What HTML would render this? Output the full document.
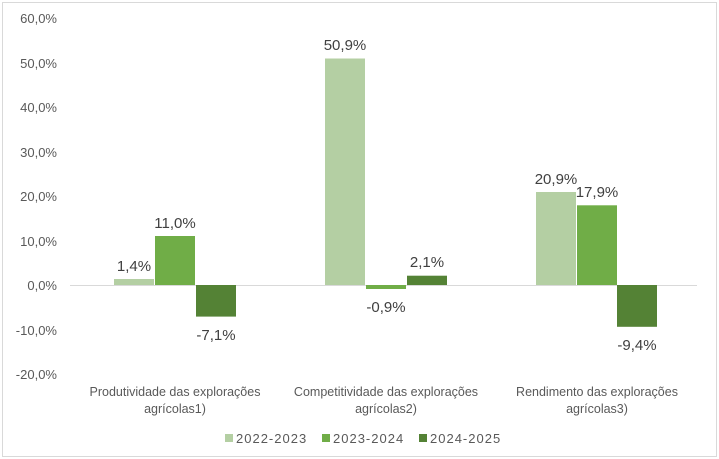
<!DOCTYPE html>
<html><head><meta charset="utf-8"><style>
body{margin:0;background:#fff}
svg{display:block;font-family:"Liberation Sans",sans-serif}
</style></head><body>
<svg width="719" height="459" viewBox="0 0 719 459">
<rect x="2.5" y="2.5" width="714" height="454" fill="#fff" stroke="#d9d9d9"/>
<g font-size="13" fill="#595959" text-anchor="end">
<text x="57" y="23">60,0%</text>
<text x="57" y="68">50,0%</text>
<text x="57" y="112">40,0%</text>
<text x="57" y="157">30,0%</text>
<text x="57" y="201">20,0%</text>
<text x="57" y="246">10,0%</text>
<text x="57" y="290">0,0%</text>
<text x="57" y="335">-10,0%</text>
<text x="57" y="379">-20,0%</text>
</g>
<line x1="70" y1="285.5" x2="697" y2="285.5" stroke="#d9d9d9"/>
<g>
<rect x="114" y="279" width="40" height="6" fill="#b4cfa3"/>
<rect x="155" y="236" width="40" height="49" fill="#70ad47"/>
<rect x="196" y="285" width="40" height="31.6" fill="#548235"/>
<rect x="325" y="58.5" width="40" height="226.5" fill="#b4cfa3"/>
<rect x="366" y="285" width="40" height="4" fill="#70ad47"/>
<rect x="407" y="275.7" width="40" height="9.3" fill="#548235"/>
<rect x="536" y="192" width="40" height="93" fill="#b4cfa3"/>
<rect x="577" y="205.3" width="40" height="79.7" fill="#70ad47"/>
<rect x="617" y="285" width="40" height="41.8" fill="#548235"/>
</g>
<g font-size="15" fill="#404040" text-anchor="middle">
<text x="134" y="271">1,4%</text>
<text x="175" y="228">11,0%</text>
<text x="216" y="340">-7,1%</text>
<text x="345" y="50">50,9%</text>
<text x="386" y="312">-0,9%</text>
<text x="427" y="267">2,1%</text>
<text x="556" y="184">20,9%</text>
<text x="597" y="197">17,9%</text>
<text x="637" y="350">-9,4%</text>
</g>
<g font-size="12.5" fill="#595959" text-anchor="middle">
<text x="175" y="396">Produtividade das explorações</text>
<text x="175" y="413">agrícolas1)</text>
<text x="386" y="396">Competitividade das explorações</text>
<text x="386" y="413">agrícolas2)</text>
<text x="597" y="396">Rendimento das explorações</text>
<text x="597" y="413">agrícolas3)</text>
</g>
<g font-size="13" fill="#595959" letter-spacing="1">
<rect x="225" y="434" width="8" height="8" fill="#b4cfa3"/><text x="236" y="443">2022-2023</text>
<rect x="322" y="434" width="8" height="8" fill="#70ad47"/><text x="333" y="443">2023-2024</text>
<rect x="419" y="434" width="8" height="8" fill="#548235"/><text x="430" y="443">2024-2025</text>
</g>
</svg>
</body></html>
